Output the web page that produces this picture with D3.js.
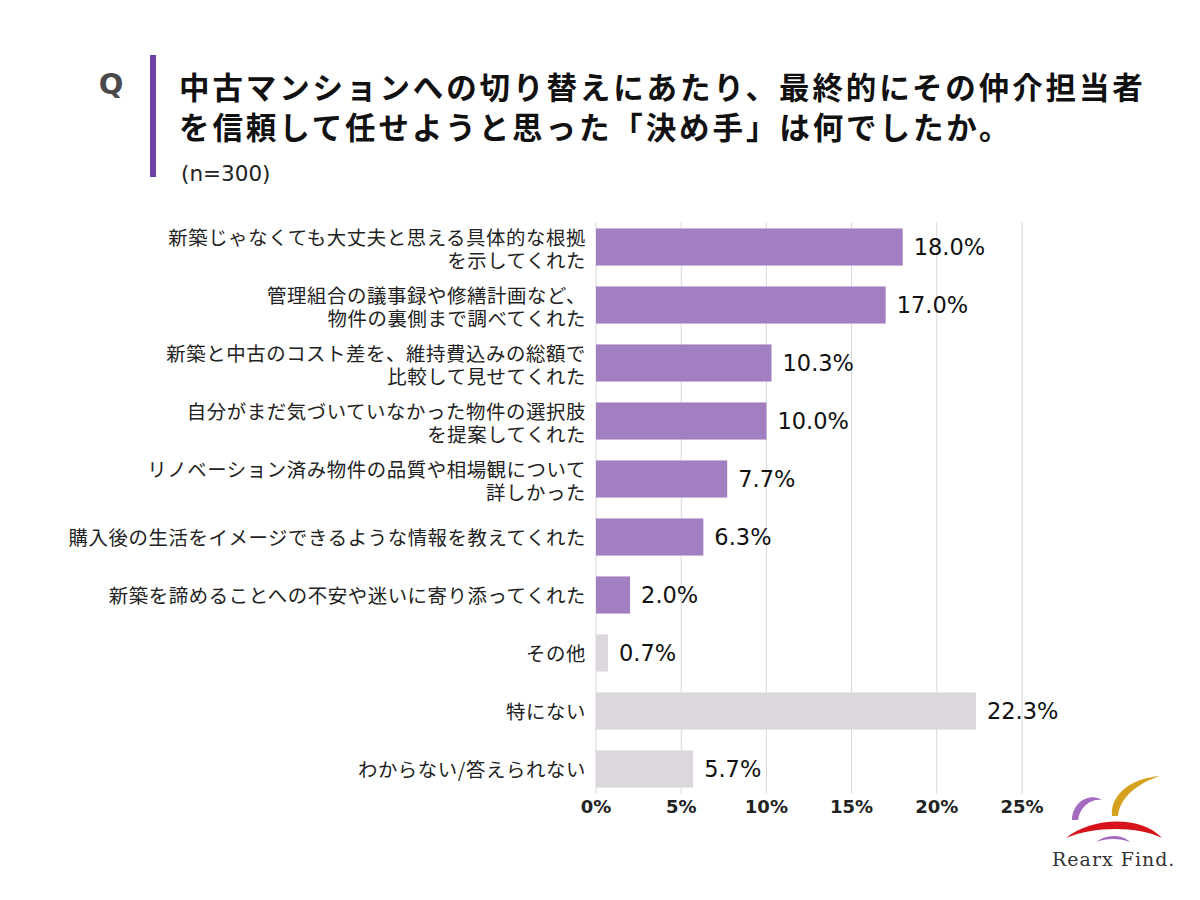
<!DOCTYPE html>
<html>
<head>
<meta charset="utf-8">
<script src="https://cdn.jsdelivr.net/npm/d3@7"></script>
<style>
  body { margin: 0; background: #fff; }
  svg { display: block; font-family: "Noto Sans CJK JP", "Noto Sans", sans-serif; }
</style>
</head>
<body>
<div id="chart"></div>
<script>
// chart data
var categories = [
  ['新築じゃなくても大丈夫と思える具体的な根拠', 'を示してくれた'],
  ['管理組合の議事録や修繕計画など、', '物件の裏側まで調べてくれた'],
  ['新築と中古のコスト差を、維持費込みの総額で', '比較して見せてくれた'],
  ['自分がまだ気づいていなかった物件の選択肢', 'を提案してくれた'],
  ['リノベーション済み物件の品質や相場観について', '詳しかった'],
  ['購入後の生活をイメージできるような情報を教えてくれた'],
  ['新築を諦めることへの不安や迷いに寄り添ってくれた'],
  ['その他'],
  ['特にない'],
  ['わからない/答えられない']
]
var values = [18.0, 17.0, 10.3, 10.0, 7.7, 6.3, 2.0, 0.7, 22.3, 5.7]
var isGray = [false, false, false, false, false, false, false, true, true, true]
var ticks = [0, 5, 10, 15, 20, 25]

var width = 1200, height = 900

var svg = d3.select('#chart').append('svg')
  .attr('width', width)
  .attr('height', height)

// header
svg.append('text')
  .attr('x', 111).attr('y', 94)
  .attr('text-anchor', 'middle')
  .style('font-family', '"DejaVu Sans", sans-serif')
  .style('font-weight', 'bold')
  .style('font-size', '29px')
  .style('fill', '#4a4a4a')
  .text('Q')

svg.append('rect')
  .attr('x', 150).attr('y', 55)
  .attr('width', 6).attr('height', 122)
  .style('fill', '#7040A8')

var titleLines = ['中古マンションへの切り替えにあたり、最終的にその仲介担当者',
                  'を信頼して任せようと思った「決め手」は何でしたか。']
svg.selectAll('.title')
  .data(titleLines)
  .enter()
  .append('text')
  .attr('class', 'title')
  .attr('x', 179)
  .attr('y', function (d, i) { return 99 + i * 40 })
  .style('font-weight', 'bold')
  .style('font-size', '30.5px')
  .style('letter-spacing', '2.9px')
  .style('fill', '#111')
  .text(function (d) { return d })

svg.append('text')
  .attr('x', 181).attr('y', 181)
  .style('font-family', '"DejaVu Sans", sans-serif')
  .style('font-size', '21.5px')
  .style('fill', '#222')
  .text('(n=300)')

// scales
var x = d3.scaleLinear().domain([0, 25]).range([596, 1022])
var y = d3.scaleBand()
  .domain(d3.range(values.length))
  .range([218, 798])
  .paddingInner(0.36)
  .paddingOuter(0.18)

// gridlines
svg.selectAll('.grid')
  .data(ticks)
  .enter()
  .append('line')
  .attr('x1', function (d) { return x(d) })
  .attr('x2', function (d) { return x(d) })
  .attr('y1', 222).attr('y2', 794)
  .style('stroke', '#d9d5da')
  .style('stroke-width', 1)

// bars
svg.selectAll('.bar')
  .data(values)
  .enter()
  .append('rect')
  .attr('x', x(0))
  .attr('y', function (d, i) { return y(i) })
  .attr('width', function (d) { return x(d) - x(0) })
  .attr('height', y.bandwidth())
  .style('fill', function (d, i) { return isGray[i] ? '#dbd7dc' : '#a27fc0' })

// value labels
svg.selectAll('.val')
  .data(values)
  .enter()
  .append('text')
  .attr('x', function (d) { return x(d) + 11 })
  .attr('y', function (d, i) { return y(i) + y.bandwidth() / 2 })
  .attr('dy', '0.36em')
  .style('font-family', '"DejaVu Sans", sans-serif')
  .style('font-size', '22.5px')
  .style('fill', '#111')
  .text(function (d) { return d.toFixed(1) + '%' })

// category labels, one text per line
var lines = []
categories.forEach(function (d, i) {
  d.forEach(function (t, j) { lines.push({ t: t, j: j, n: d.length, i: i }) })
})

svg.selectAll('.cat')
  .data(lines)
  .enter()
  .append('text')
  .attr('class', 'cat')
  .attr('text-anchor', 'end')
  .attr('x', 586)
  .attr('y', function (d) {
    var off = d.n > 1 ? 3 : 1
    return y(d.i) + y.bandwidth() / 2 + off + (d.j - (d.n - 1) / 2) * 23
  })
  .attr('dy', '0.36em')
  .style('font-size', '19.4px')
  .style('letter-spacing', '0.6px')
  .style('fill', '#222')
  .text(function (d) { return d.t })

// x axis labels
svg.selectAll('.tick')
  .data(ticks)
  .enter()
  .append('text')
  .attr('x', function (d) { return x(d) })
  .attr('y', 813)
  .attr('text-anchor', 'middle')
  .style('font-family', '"DejaVu Sans", sans-serif')
  .style('font-weight', 'bold')
  .style('font-size', '18px')
  .style('fill', '#222')
  .text(function (d) { return d + '%' })

// logo
var logo = svg.append('g').attr('transform', 'translate(1050,770)')
logo.append('path')
  .attr('d', 'M22,50 C22,32 40,22 52,30 C42,28 30,36 28,50 Z')
  .style('fill', '#a46ac0')
logo.append('path')
  .attr('d', 'M62,46 C60,24 82,8 110,6 C86,14 70,28 68,46 Z')
  .style('fill', '#d4a21e')
logo.append('path')
  .attr('d', 'M16,68 C40,48 90,44 112,68 C88,56 44,56 16,68 Z')
  .style('fill', '#d5141c')
logo.append('path')
  .attr('d', 'M46,72 C56,64 72,64 80,72 C70,68 56,68 46,72 Z')
  .style('fill', '#a46ac0')
logo.append('text')
  .attr('x', 2).attr('y', 96)
  .style('font-family', '"DejaVu Serif", "Liberation Serif", serif')
  .style('font-size', '19px')
  .style('letter-spacing', '1px')
  .style('fill', '#333')
  .text('Rearx Find.')
</script>
</body>
</html>
